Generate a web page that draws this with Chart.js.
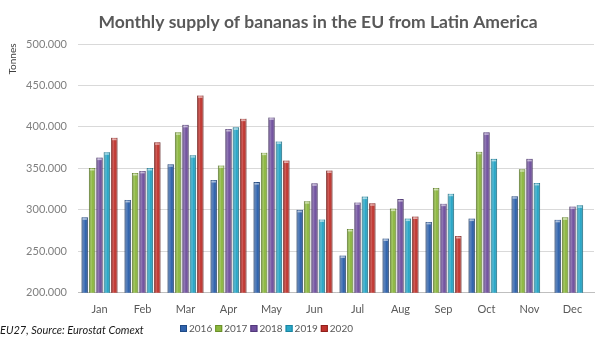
<!DOCTYPE html>
<html>
<head>
    <title>Bananas EU</title>
    <meta charset="UTF-8">
    <script src="https://cdn.jsdelivr.net/npm/chart.js@4.4.1/dist/chart.umd.min.js"></script>
    <style>
        html, body { margin: 0; padding: 0; background: #fff; }
        #wrap { width: 600px; height: 364px; }
    </style>
</head>
<body>
    <div id="wrap"><canvas id="myChart"></canvas></div>

    <script>
        // values (tonnes)
        var months = ['Jan', 'Feb', 'Mar', 'Apr', 'May', 'Jun', 'Jul', 'Aug', 'Sep', 'Oct', 'Nov', 'Dec'];
        var years = ['2016', '2017', '2018', '2019', '2020'];
        var y2016 = [291000, 312000, 355000, 336000, 333500, 300000, 245000, 265500, 285500, 289500, 316500, 288000];
        var y2017 = [350500, 344500, 393500, 353500, 369000, 310500, 277000, 301500, 326500, 370000, 349000, 291000];
        var y2018 = [363000, 347000, 402500, 397500, 411500, 332000, 309000, 313000, 307500, 393500, 361500, 304000];
        var y2019 = [369500, 350500, 366000, 399500, 382500, 288500, 316000, 289500, 319500, 361500, 332500, 305500];
        var y2020 = [387000, 381500, 438000, 410000, 359500, 347500, 308000, 292000, 268500, null, null, null];
        var yTicks = [200000, 250000, 300000, 350000, 400000, 450000, 500000];

        var colors = ['#2f63ad', '#8cb83e', '#6f4f9e', '#2aa8c8', '#c0322c'];
        var borders = ['#1f4a86', '#6a8f2a', '#52387a', '#1b84a0', '#8f1f1b'];
        var series = [y2016, y2017, y2018, y2019, y2020];

        function fmt(v) {
            return String(v).replace(/\B(?=(\d{3})+(?!\d))/g, '.');
        }

        // gives each bar a rounded, shaded look like the original
        var shade = {
            id: 'shade',
            afterDatasetsDraw: function (chart) {
                var ctx = chart.ctx;
                var bottom = chart.chartArea.bottom;
                chart.data.datasets.forEach(function (ds, i) {
                    chart.getDatasetMeta(i).data.forEach(function (bar) {
                        if (bar.skip || isNaN(bar.y)) return;
                        var w = bar.width, x0 = bar.x - w / 2;
                        var h = Math.min(bar.base, bottom) - bar.y;
                        var g = ctx.createLinearGradient(x0, 0, x0 + w, 0);
                        g.addColorStop(0, 'rgba(0,0,0,0.25)');
                        g.addColorStop(0.35, 'rgba(255,255,255,0.22)');
                        g.addColorStop(0.6, 'rgba(255,255,255,0)');
                        g.addColorStop(1, 'rgba(0,0,0,0.3)');
                        ctx.save();
                        ctx.fillStyle = g;
                        ctx.fillRect(x0, bar.y, w, h);
                        ctx.fillStyle = 'rgba(255,255,255,0.55)';
                        ctx.fillRect(x0 + 1, bar.y + 1, w - 2, 1.5);
                        ctx.restore();
                    });
                });
            }
        };

        // title, axis label at the top, source note and legend row
        var extras = {
            id: 'extras',
            afterDraw: function (chart) {
                var ctx = chart.ctx;
                ctx.save();
                ctx.fillStyle = '#595959';
                ctx.font = 'bold 17.5px Lato';
                ctx.textAlign = 'center';
                ctx.textBaseline = 'middle';
                ctx.fillText('Monthly supply of bananas in the EU from Latin America', 318, 22);
                ctx.restore();

                ctx.save();
                ctx.fillStyle = '#404040';
                ctx.font = '10px Lato';
                ctx.translate(13, 59);
                ctx.rotate(-Math.PI / 2);
                ctx.textAlign = 'center';
                ctx.textBaseline = 'middle';
                ctx.fillText('Tonnes', 0, 0);
                ctx.restore();

                ctx.save();
                ctx.fillStyle = '#1a1a1a';
                ctx.font = 'italic 11px Lato';
                ctx.textBaseline = 'middle';
                ctx.fillText('EU27, Source: Eurostat Comext', 0, 330);

                ctx.font = '10px Lato';
                var x = 180;
                chart.data.datasets.forEach(function (ds) {
                    ctx.fillStyle = ds.backgroundColor;
                    ctx.fillRect(x, 325, 7, 7);
                    ctx.strokeStyle = ds.borderColor;
                    ctx.lineWidth = 1;
                    ctx.strokeRect(x + 0.5, 325.5, 6, 6);
                    ctx.fillStyle = '#595959';
                    ctx.fillText(ds.label, x + 9, 329);
                    x += 9 + ctx.measureText(ds.label).width + 3;
                });
                ctx.restore();
            }
        };

        var ctx = document.getElementById('myChart');
        var myChart = new Chart(ctx, {
            type: 'bar',
            data: {
                labels: months,
                datasets: years.map(function (y, i) {
                    return {
                        label: y,
                        data: series[i],
                        backgroundColor: colors[i],
                        borderColor: borders[i],
                        borderWidth: 0.8,
                        barPercentage: 0.86,
                        categoryPercentage: 0.86
                    };
                })
            },
            options: {
                responsive: true,
                maintainAspectRatio: false,
                animation: false,
                layout: { padding: { left: 0, right: 6, top: 44, bottom: 46 } },
                plugins: {
                    legend: { display: false },
                    tooltip: { enabled: false },
                    title: { display: false }
                },
                scales: {
                    x: {
                        grid: { display: false },
                        border: { color: '#bfbfbf' },
                        ticks: { color: '#595959', font: { family: 'Lato', size: 11 }, padding: 2 }
                    },
                    y: {
                        min: yTicks[0],
                        max: yTicks[yTicks.length - 1],
                        afterBuildTicks: function (scale) {
                            scale.ticks = yTicks.map(function (v) { return { value: v }; });
                        },
                        afterFit: function (scale) { scale.width = 78; },
                        grid: { color: '#d9d9d9', drawTicks: false },
                        border: { display: false },
                        ticks: {
                            color: '#7f7f7f',
                            font: { family: 'Lato', size: 11 },
                            padding: 11,
                            callback: function (v) { return fmt(v); }
                        }
                    }
                }
            },
            plugins: [shade, extras]
        });
    </script>
</body>
</html>
